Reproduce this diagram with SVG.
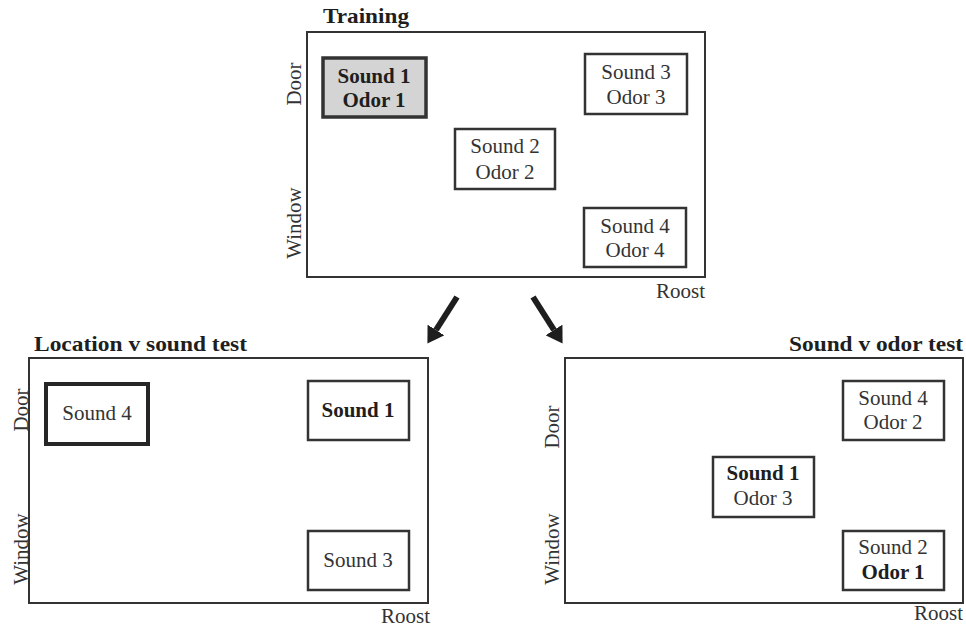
<svg xmlns="http://www.w3.org/2000/svg" width="966" height="627" viewBox="0 0 966 627">
<style>
.frame{fill:#fff;stroke:#333;stroke-width:2}
.box{fill:#fff;stroke:#333;stroke-width:2.5}
.t{font-family:'Liberation Serif','Tinos','Times New Roman','DejaVu Serif','Noto Serif',serif;font-size:21px;fill:#333;text-anchor:middle}
.b{font-weight:bold;fill:#1e1e1e}
.title{font-family:'Liberation Serif','Tinos','Times New Roman','DejaVu Serif','Noto Serif',serif;font-size:21px;font-weight:bold;fill:#1e1e1e}
.side{font-family:'Liberation Serif','Tinos','Times New Roman','DejaVu Serif','Noto Serif',serif;font-size:21px;fill:#333;text-anchor:middle}
.roost{font-family:'Liberation Serif','Tinos','Times New Roman','DejaVu Serif','Noto Serif',serif;font-size:21px;fill:#333;text-anchor:end}
.arrow{stroke:#1e1e1e;stroke-width:6;fill:none}
</style>
<defs>
<marker id="ah" markerUnits="userSpaceOnUse" viewBox="0 -10 16 20" refX="0" refY="0" markerWidth="16" markerHeight="20" orient="auto">
<path d="M0,-10 L16,0 L0,10 z" fill="#1e1e1e"/>
</marker>
</defs>

<g id="training">
<text class="title" x="323" y="23" textLength="86" lengthAdjust="spacingAndGlyphs">Training</text>
<rect class="frame" x="307" y="32" width="398" height="245"/>
<text class="side" transform="translate(301,84) rotate(-90)">Door</text>
<text class="side" transform="translate(301,223) rotate(-90)">Window</text>
<text class="roost" x="705" y="298">Roost</text>
</g>
<g id="tr-s1o1">
<rect x="323" y="58" width="103" height="59" fill="#d4d4d4" stroke="#333" stroke-width="3.5"/>
<text class="t b" x="374" y="83">Sound 1</text>
<text class="t b" x="374" y="107">Odor 1</text>
</g>
<g id="tr-s3o3">
<rect class="box" x="585" y="54" width="102" height="60"/>
<text class="t" x="636" y="79">Sound 3</text>
<text class="t" x="636" y="104">Odor 3</text>
</g>
<g id="tr-s2o2">
<rect class="box" x="455" y="129" width="100" height="60"/>
<text class="t" x="505" y="153">Sound 2</text>
<text class="t" x="505" y="179">Odor 2</text>
</g>
<g id="tr-s4o4">
<rect class="box" x="584" y="208" width="102" height="59"/>
<text class="t" x="635" y="233">Sound 4</text>
<text class="t" x="635" y="257">Odor 4</text>
</g>

<g id="location-test">
<text class="title" x="34" y="351" textLength="213" lengthAdjust="spacingAndGlyphs">Location v sound test</text>
<rect class="frame" x="29" y="358" width="399" height="245"/>
<text class="side" transform="translate(28,410) rotate(-90)">Door</text>
<text class="side" transform="translate(28,549) rotate(-90)">Window</text>
<text class="roost" x="430" y="623">Roost</text>
</g>
<g id="lt-s4">
<rect x="46" y="384" width="102" height="60" fill="#fff" stroke="#262626" stroke-width="4"/>
<text class="t" x="97" y="420">Sound 4</text>
</g>
<g id="lt-s1">
<rect class="box" x="308" y="381" width="101" height="59"/>
<text class="t b" x="358" y="417">Sound 1</text>
</g>
<g id="lt-s3">
<rect class="box" x="308" y="531" width="101" height="59"/>
<text class="t" x="358" y="567">Sound 3</text>
</g>

<g id="odor-test">
<text class="title" x="963" y="351" text-anchor="end" textLength="174" lengthAdjust="spacingAndGlyphs">Sound v odor test</text>
<rect class="frame" x="565" y="358" width="398" height="245"/>
<text class="side" transform="translate(559,427) rotate(-90)">Door</text>
<text class="side" transform="translate(559,549) rotate(-90)">Window</text>
<text class="roost" x="963" y="620">Roost</text>
</g>
<g id="ot-s4o2">
<rect class="box" x="843" y="381" width="101" height="59"/>
<text class="t" x="893" y="405">Sound 4</text>
<text class="t" x="893" y="429">Odor 2</text>
</g>
<g id="ot-s1o3">
<rect class="box" x="713" y="457" width="101" height="60"/>
<text class="t b" x="763" y="480">Sound 1</text>
<text class="t" x="763" y="505">Odor 3</text>
</g>
<g id="ot-s2o1">
<rect class="box" x="843" y="531" width="101" height="59"/>
<text class="t" x="893" y="554">Sound 2</text>
<text class="t b" x="893" y="579">Odor 1</text>
</g>

<g id="connectors">
<line class="arrow" x1="457" y1="297" x2="436" y2="330" marker-end="url(#ah)"/>
<line class="arrow" x1="533" y1="297" x2="554" y2="330" marker-end="url(#ah)"/>
</g>
</svg>
